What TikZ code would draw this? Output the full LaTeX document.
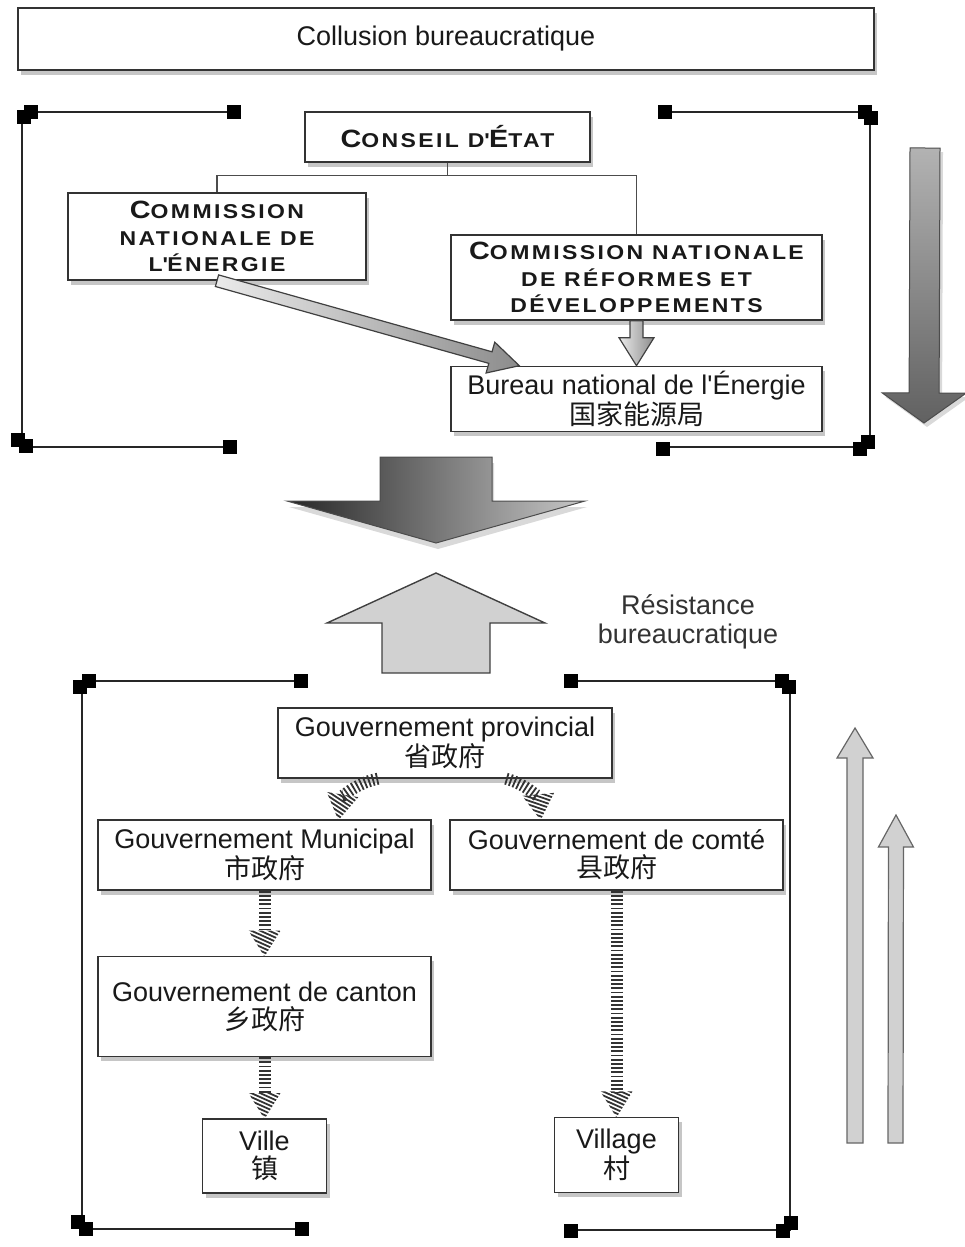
\documentclass[tikz,border=0pt]{standalone}
\usepackage{fontspec}
\setmainfont{Liberation Sans}
\newfontfamily\cjk{Noto Sans CJK SC}
\newfontfamily\capsfont{Liberation Sans}[LetterSpace=12, FakeStretch=1.15]
\usepackage{tikz}
\usetikzlibrary{positioning, calc, shadows, decorations.markings}

\newcommand\scbig[1]{{\fontsize{12.5}{13.25}\selectfont #1}}
% block arrow from #2 to #3: shaft half width, head half width, head length
\newcommand\blockarrow[6][]{%
  \coordinate (bas) at (#2);
  \coordinate (bae) at (#3);
  \coordinate (bah) at ($(bae)!#6!(bas)$);
  \path[#1] ($(bas)!#4!90:(bae)$) -- ($(bah)!#4!90:(bae)$) -- ($(bah)!#5!90:(bae)$) -- (bae)
    -- ($(bah)!#5!-90:(bae)$) -- ($(bah)!#4!-90:(bae)$) -- ($(bas)!#4!-90:(bae)$) -- cycle;
}

\tikzstyle{box} = [rectangle, draw=black!80, line width=0.7pt, fill=white, align=center, inner sep=0pt, text=black!90, font=\fontsize{13.5}{14}\selectfont, drop shadow={shadow xshift=1.5pt, shadow yshift=-2.5pt, opacity=0.45}]
\tikzstyle{capsbox} = [box, font=\capsfont\bfseries\fontsize{10}{13.25}\selectfont]
\tikzstyle{frame} = [draw=black!85, line width=0.8pt]
\tikzstyle{handle} = [fill=black]
\tikzstyle{tree} = [draw=black!70, line width=0.6pt]
\tikzstyle{hatch} = [draw=black!80, line width=6pt, dash pattern=on 0.9pt off 1.2pt, shorten >=12pt,
  postaction={decorate, decoration={markings, mark=at position 0.999 with {%
    \begin{scope}
      \clip (0.5pt,0) -- (-12.5pt,8pt) -- (-12.5pt,-8pt) -- cycle;
      \foreach \k in {-24,-22,...,2} \draw[solid, shorten >=0pt, line width=0.9pt, black!80] (\k pt,-10pt) -- ++(9pt,20pt);
    \end{scope}}}}]
\tikzstyle{grayarrow} = [draw=black!75, line width=0.6pt, left color=black!8, right color=black!45]
\tikzstyle{bigdown} = [draw=black!70, line width=0.5pt, left color=black!85, right color=black!22, drop shadow={shadow xshift=1pt, shadow yshift=-3pt, opacity=0.3}]
\tikzstyle{sidedown} = [draw=black!70, line width=0.5pt, top color=black!30, bottom color=black!62, drop shadow={shadow xshift=1.5pt, shadow yshift=-2pt, opacity=0.3}]
\tikzstyle{bigup} = [draw=black!75, line width=0.7pt, fill=black!18]
\tikzstyle{thinup} = [draw=black!60, line width=0.6pt, fill=black!18]

\begin{document}
\begin{tikzpicture}[x=0.5pt, y=-0.5pt]
\useasboundingbox (0,0) rectangle (964,1247);

\node (coll) [box, minimum width=428pt, minimum height=31pt] at (446,39) {Collusion bureaucratique};

% central level
\node (conseil) [capsbox, minimum width=142.5pt, minimum height=25pt] at (447.5,137) {\scbig{C}ONSEIL D\textquotesingle\scbig{É}TAT};
\node (cne) [capsbox, minimum width=149pt, minimum height=43.5pt] at (217,236.5) {\scbig{C}OMMISSION\\NATIONALE DE\\L\textquotesingle ÉNERGIE};
\node (cnrd) [capsbox, minimum width=185.5pt, minimum height=42.5pt] at (636.5,277.5) {\scbig{C}OMMISSION NATIONALE\\DE RÉFORMES ET\\DÉVELOPPEMENTS};
\node (bne) [box, minimum width=185.5pt, minimum height=32.5pt, below=22.5pt of cnrd] {Bureau national de l\textquotesingle Énergie\\{\cjk 国家能源局}};

\draw [tree] (conseil.south) -- ++(0,13) -| (cne.north);
\draw [tree] (conseil.south) -- ++(0,13) -| (cnrd.north);
\blockarrow[grayarrow]{cne.south}{[xshift=34.5pt]bne.north west}{3pt}{8pt}{15pt}
\blockarrow[grayarrow]{cnrd.south}{bne.north}{3.25pt}{8.75pt}{14pt}

\draw [frame] (233,112) -- (22,112) -- (22,447) -- (231,447);
\draw [frame] (664,112) -- (870,112) -- (870,447) -- (664,447);
\foreach \x/\y in {24/117, 31/112, 234/112, 18/440, 26/446, 230/447, 665/112, 865/112, 871/118, 860/449, 868/442, 663/449}
  \fill [handle] (\x-7,\y-7) rectangle (\x+7,\y+7);

\blockarrow[sidedown]{925,148}{924,423}{7.5pt}{21pt}{15pt}
\blockarrow[bigdown]{436,457}{436,543}{28pt}{74.5pt}{21pt}
\blockarrow[bigup]{436,673}{436,573}{27pt}{54.5pt}{25pt}

\node (resist) [align=center, text=black!80, font=\fontsize{13.5}{14.5}\selectfont] at (688,622) {Résistance\\bureaucratique};

% local level
\node (prov) [box, minimum width=167pt, minimum height=35pt] at (445,743) {Gouvernement provincial\\{\cjk 省政府}};
\node (mun) [box, minimum width=166.5pt, minimum height=35pt] at (264.5,855) {Gouvernement Municipal\\{\cjk 市政府}};
\node (comte) [box, minimum width=166.5pt, minimum height=35pt] at (616.5,855) {Gouvernement de comté\\{\cjk 县政府}};
\node (canton) [box, minimum width=166.5pt, minimum height=50pt, below=32.5pt of mun] {Gouvernement de canton\\{\cjk 乡政府}};
\node (ville) [box, minimum width=62pt, minimum height=37pt, below=30.5pt of canton] {Ville\\{\cjk 镇}};
\node (village) [box, minimum width=62pt, minimum height=37.5pt, below=113pt of comte] {Village\\{\cjk 村}};

\draw [hatch] ([xshift=-33.5pt]prov.south) to[bend right=35] ([xshift=37pt]mun.north);
\draw [hatch] ([xshift=30.5pt]prov.south) to[bend left=35] ([xshift=-38pt]comte.north);
\draw [hatch] (mun.south) -- (canton.north);
\draw [hatch] (canton.south) -- (canton.south |- ville.north);
\draw [hatch] (comte.south) -- (comte.south |- village.north);

\draw [frame] (302,681) -- (82,681) -- (82,1229) -- (302,1229);
\draw [frame] (571,681) -- (790,681) -- (790,1230) -- (571,1230);
\foreach \x/\y in {80/687, 89/681, 301/681, 782/681, 789/687, 571/681, 78/1222, 86/1229, 302/1229, 783/1231, 791/1223, 571/1231}
  \fill [handle] (\x-7,\y-7) rectangle (\x+7,\y+7);

\blockarrow[thinup]{855,1143}{855,728}{4pt}{9pt}{15pt}
\blockarrow[thinup]{895.5,1143}{896,815}{3.75pt}{8.75pt}{16pt}

\end{tikzpicture}
\end{document}
